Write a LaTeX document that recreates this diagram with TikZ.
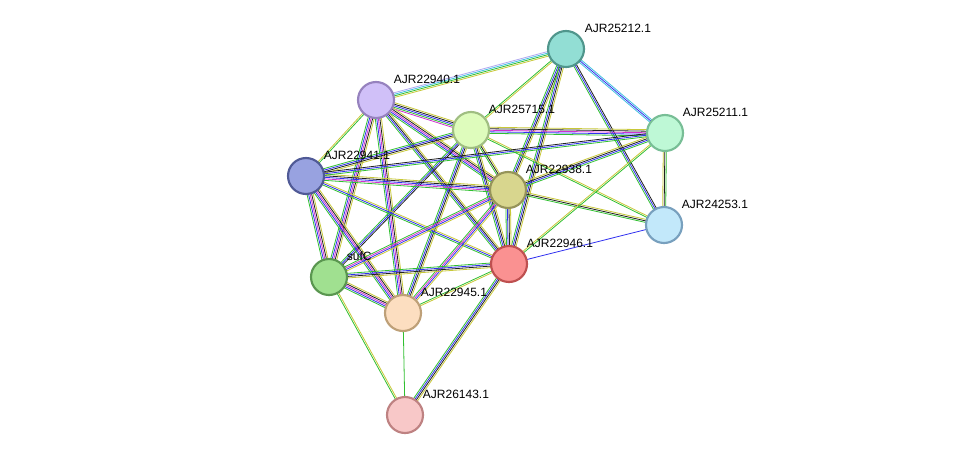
\documentclass[tikz,border=0pt]{standalone}
\usepackage{fontspec}
\setmainfont{Liberation Sans}
\usetikzlibrary{calc}
\definecolor{eg}{HTML}{30C030}
\definecolor{eb}{HTML}{3030F0}
\definecolor{em}{HTML}{D030D0}
\definecolor{ey}{HTML}{C8C838}
\definecolor{ec}{HTML}{40C0E0}
\definecolor{ek}{HTML}{202020}
\definecolor{el}{HTML}{B0A8F0}
\newcommand\E[3]{%
  \foreach \c [count=\i] in {#3}{\xdef\nE{\i}}%
  \foreach \c [count=\i] in {#3}{%
    \pgfmathsetmacro\o{(\i-(\nE+1)/2)*1.15}%
    \draw[\c,line width=0.6pt] ($(#1)!\o pt!90:(#2)$) -- ($(#2)!\o pt!-90:(#1)$);}}
\tikzset{prot/.style={circle,minimum size=27pt,inner sep=0pt,line width=1.6pt},
  lab/.style={anchor=west,font=\fontsize{9}{10}\selectfont,inner sep=0.5pt}}
\begin{document}
\begin{tikzpicture}[x=0.75pt,y=-0.75pt]
\fill[white] (0,0) rectangle (975,461);
\coordinate (a) at (566,49);   % 25212
\coordinate (b) at (376,100);  % 22940
\coordinate (c) at (471,130);  % 25715
\coordinate (d) at (665,133);  % 25211
\coordinate (e) at (306,176);  % 22941
\coordinate (f) at (508,190);  % 22938
\coordinate (g) at (664,225);  % 24253
\coordinate (h) at (509,264);  % 22946
\coordinate (s) at (329,277);  % sufC
\coordinate (k) at (403,313);  % 22945
\coordinate (m) at (405,415);  % 26143
\E{a}{b}{el,ec,eg,ey}
\E{a}{d}{ec,eb,ec}
\E{a}{c}{eg,ey}
\E{a}{f}{eg,eb,ek,ey}
\E{a}{h}{eg,eb,ek,ey}
\E{a}{g}{eg,eb,ek}
\E{b}{c}{em,eg,eb,ek,ey}
\E{b}{e}{ey,eg}
\E{b}{f}{eg,eb,em,ek,ey}
\E{b}{h}{eg,eb,ek,ey}
\E{b}{s}{eg,eb,em,ek,ey}
\E{b}{k}{eg,eb,em,ek,ey}
\E{c}{d}{eg,eb,em,ek,ey}
\E{c}{e}{eg,eb,ek,ey}
\E{c}{f}{eg,ek,ey}
\E{c}{h}{eg,eb,ek,ey}
\E{c}{s}{eg,eb,ek}
\E{c}{k}{eg,eb,ek,ey}
\E{c}{g}{eg,ey}
\E{e}{f}{eg,em,eb,ek,ey}
\E{e}{h}{eg,eb,ey}
\E{e}{s}{eg,eb,em,ek,ey}
\E{e}{k}{eg,eb,em,ek,ey}
\E{e}{d}{eg,eb,ek}
\E{f}{d}{eg,eb,ek,ey}
\E{f}{g}{eg,ek,ey}
\E{f}{h}{eg,eb,ek,ey}
\E{f}{s}{eg,em,eb,ey}
\E{f}{k}{eg,em,eb,ey}
\E{h}{g}{eb}
\E{h}{d}{eg,ey}
\E{h}{s}{eg,eb,ek,ey}
\E{h}{k}{eg,ey}
\E{h}{m}{eg,eb,ek,ey}
\E{s}{k}{eg,eb,em,ek,ey}
\E{s}{m}{eg,ey}
\E{k}{m}{eg}
\E{g}{d}{eg,ek,ey}
\node[prot,fill={rgb,255:red,146;green,222;blue,212},draw={rgb,255:red,80;green,150;blue,140}] (na) at (a) {};
\node[prot,fill={rgb,255:red,208;green,192;blue,248},draw={rgb,255:red,150;green,130;blue,190}] (nb) at (b) {};
\node[prot,fill={rgb,255:red,222;green,252;blue,188},draw={rgb,255:red,160;green,190;blue,130}] (nc) at (c) {};
\node[prot,fill={rgb,255:red,190;green,248;blue,214},draw={rgb,255:red,120;green,190;blue,150}] (nd) at (d) {};
\node[prot,fill={rgb,255:red,152;green,162;blue,224},draw={rgb,255:red,80;green,90;blue,150}] (ne) at (e) {};
\node[prot,fill={rgb,255:red,216;green,214;blue,142},draw={rgb,255:red,150;green,148;blue,90}] (nf) at (f) {};
\node[prot,fill={rgb,255:red,194;green,232;blue,250},draw={rgb,255:red,120;green,160;blue,190}] (ng) at (g) {};
\node[prot,fill={rgb,255:red,250;green,145;blue,145},draw={rgb,255:red,190;green,80;blue,80}] (nh) at (h) {};
\node[prot,fill={rgb,255:red,160;green,224;blue,144},draw={rgb,255:red,90;green,150;blue,80}] (ns) at (s) {};
\node[prot,fill={rgb,255:red,252;green,222;blue,192},draw={rgb,255:red,190;green,160;blue,120}] (nk) at (k) {};
\node[prot,fill={rgb,255:red,248;green,200;blue,200},draw={rgb,255:red,190;green,130;blue,130}] (nm) at (m) {};
\node[lab] (la) at (584,28) {AJR25212.1};
\node[lab] (lb) at (393,79) {AJR22940.1};
\node[lab] (lc) at (488,109) {AJR25715.1};
\node[lab] (ld) at (682,112) {AJR25211.1};
\node[lab] (le) at (323,155) {AJR22941.1};
\node[lab] (lf) at (525,169) {AJR22938.1};
\node[lab] (lg) at (681,204) {AJR24253.1};
\node[lab] (lh) at (526,243) {AJR22946.1};
\node[lab] (ls) at (346,256) {sufC};
\node[lab] (lk) at (420,292) {AJR22945.1};
\node[lab] (lm) at (422,394) {AJR26143.1};
\end{tikzpicture}
\end{document}
